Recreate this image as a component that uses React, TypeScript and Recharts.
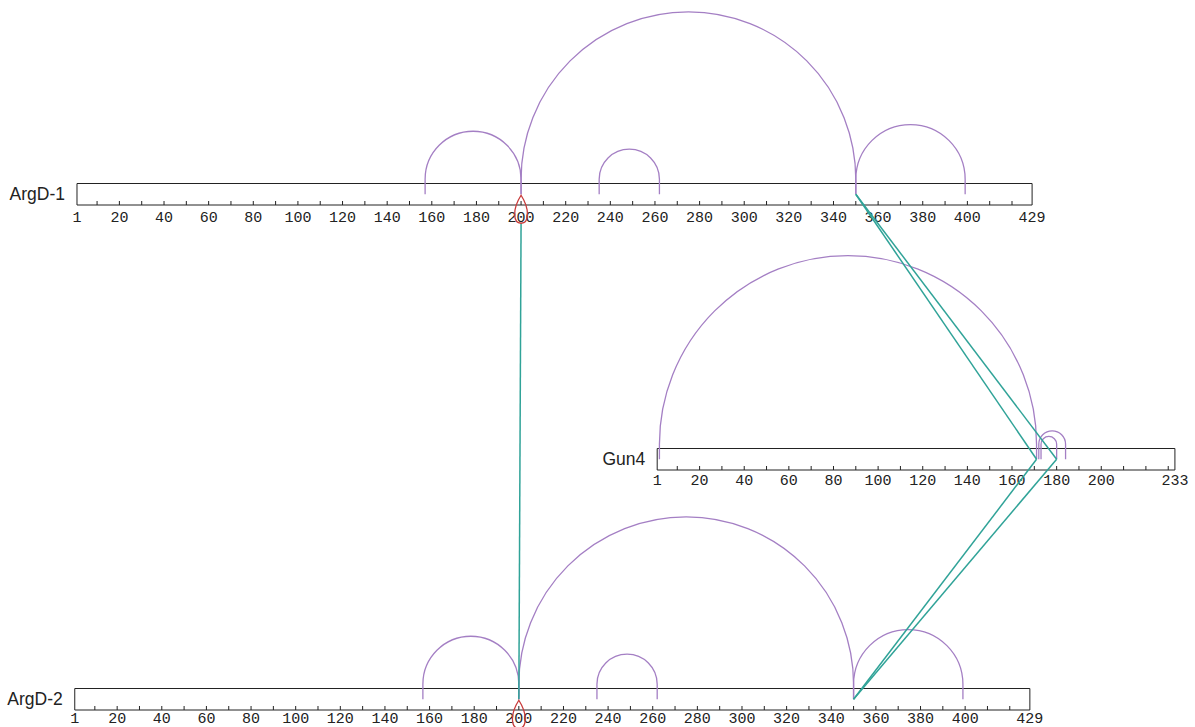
import React from 'react';
import { ComposedChart, XAxis, YAxis, Scatter, ReferenceArea } from 'recharts';

// proteins and their lengths (residues)
const proteins = ['ArgD-1', 'Gun4', 'ArgD-2'];
const proteinLengths = [429, 233, 429];

// labelled residues under each bar
const argdTickLabels = [1, 20, 40, 60, 80, 100, 120, 140, 160, 180, 200, 220, 240, 260, 280, 300, 320, 340, 360, 380, 400, 429];
const gun4TickLabels = [1, 20, 40, 60, 80, 100, 120, 140, 160, 180, 200, 233];
const tickLabels = [argdTickLabels, gun4TickLabels, argdTickLabels];

// intra-protein crosslinks: [protein, residue from, residue to]
const selfLinks: [string, number, number][] = [
  ['ArgD-1', 157, 200],
  ['ArgD-1', 200, 350],
  ['ArgD-1', 235, 262],
  ['ArgD-1', 350, 399],
  ['Gun4', 2, 171],
  ['Gun4', 172, 184],
  ['Gun4', 173, 180],
  ['ArgD-2', 157, 200],
  ['ArgD-2', 200, 350],
  ['ArgD-2', 235, 262],
  ['ArgD-2', 350, 399],
];

// inter-protein crosslinks: [protein A, residue A, protein B, residue B]
const crossLinks: [string, number, string, number][] = [
  ['ArgD-1', 200, 'ArgD-2', 200],
  ['ArgD-1', 350, 'Gun4', 171],
  ['ArgD-1', 350, 'Gun4', 180],
  ['Gun4', 171, 'ArgD-2', 350],
  ['Gun4', 180, 'ArgD-2', 350],
];

// homomultimeric link markers: [protein, residue]
const homoLinks: [string, number][] = [
  ['ArgD-1', 200],
  ['ArgD-2', 200],
];

// layout of each track: residue offset on the shared x axis, bar top/bottom in y units
const layout: Record<string, { offset: number; top: number; bottom: number; labelDy: number }> = {
  'ArgD-1': { offset: 0, top: 183.5, bottom: 205, labelDy: 16.5 },
  Gun4: { offset: 260, top: 448.5, bottom: 470, labelDy: 15 },
  'ArgD-2': { offset: -1, top: 688.5, bottom: 710, labelDy: 12.5 },
};

const W = 1195;
const H = 727;
const PURPLE = '#a47fc4';
const TEAL = '#30a398';
const RED = '#c83a3a';
const ARC_LEG = 15;

const mid = (p: string) => (layout[p].top + layout[p].bottom) / 2;
const pos = (p: string, r: number) => layout[p].offset + r;

const hidden = () => <g />;

const arcLine = (props: any) => {
  const pts = props.points || [];
  if (pts.length < 2) return <g />;
  const [a, b] = pts;
  const r = Math.abs(b.x - a.x) / 2;
  const top = a.y - ARC_LEG;
  return (
    <path
      d={`M${a.x},${a.y} L${a.x},${top} A${r},${r} 0 0 1 ${b.x},${top} L${b.x},${b.y}`}
      fill="none"
      stroke={PURPLE}
      strokeWidth={1.3}
    />
  );
};

const tickMark = (props: any) => (
  <line x1={props.cx} x2={props.cx} y1={props.cy - 4} y2={props.cy} stroke="#222" strokeWidth={1} />
);

const tickText = (props: any) => (
  <text
    x={props.cx}
    y={props.cy + props.payload.dy}
    textAnchor="middle"
    fontFamily="Liberation Mono"
    fontSize={15}
    fill="#222"
  >
    {props.payload.label}
  </text>
);

const nameText = (props: any) => (
  <text
    x={props.cx - 12}
    y={props.cy + 6}
    textAnchor="end"
    fontFamily="Liberation Sans"
    fontSize={17.5}
    fill="#222"
  >
    {props.payload.label}
  </text>
);

const homoMarker = (props: any) => {
  const { cx, cy } = props;
  return (
    <path
      d={`M${cx},${cy} C${cx - 9},${cy + 14} ${cx - 8},${cy + 28} ${cx},${cy + 28} C${cx + 8},${cy + 28} ${cx + 9},${cy + 14} ${cx},${cy} Z`}
      fill="none"
      stroke={RED}
      strokeWidth={1.3}
    />
  );
};

export default function App() {
  return (
    <div style={{ position: 'absolute', left: 0, top: 0, background: '#fff' }}>
      <ComposedChart width={W} height={H} margin={{ top: 0, right: 0, bottom: 0, left: 0 }}>
        <XAxis dataKey="x" type="number" domain={[-33.5, 502]} allowDataOverflow hide />
        <YAxis dataKey="y" type="number" domain={[0, H]} reversed allowDataOverflow hide />

        {proteins.map((p, i) => (
          <ReferenceArea
            key={`bar-${p}`}
            x1={pos(p, 1)}
            x2={pos(p, proteinLengths[i])}
            y1={layout[p].top}
            y2={layout[p].bottom}
            fill="none"
            stroke="#222"
            strokeWidth={1}
            ifOverflow="visible"
          />
        ))}

        {proteins.map((p, i) => {
          const marks = [];
          for (let r = 10; r < proteinLengths[i]; r += 10) marks.push({ x: pos(p, r), y: layout[p].bottom });
          return <Scatter key={`ticks-${p}`} data={marks} shape={tickMark} isAnimationActive={false} />;
        })}

        {proteins.map((p, i) => (
          <Scatter
            key={`labels-${p}`}
            data={tickLabels[i].map((r) => ({ x: pos(p, r), y: layout[p].bottom, label: r, dy: layout[p].labelDy }))}
            shape={tickText}
            isAnimationActive={false}
          />
        ))}

        <Scatter
          data={proteins.map((p) => ({ x: pos(p, 1), y: mid(p), label: p }))}
          shape={nameText}
          isAnimationActive={false}
        />

        {selfLinks.map(([p, a, b], i) => (
          <Scatter
            key={`self-${i}`}
            data={[
              { x: pos(p, a), y: mid(p) },
              { x: pos(p, b), y: mid(p) },
            ]}
            line={arcLine}
            shape={hidden}
            isAnimationActive={false}
          />
        ))}

        {crossLinks.map(([pa, ra, pb, rb], i) => (
          <Scatter
            key={`cross-${i}`}
            data={[
              { x: pos(pa, ra), y: homoLinks.some(([hp, hr]) => hp === pa && hr === ra) ? mid(pa) + 29 : mid(pa) },
              { x: pos(pb, rb), y: mid(pb) },
            ]}
            line={{ stroke: TEAL, strokeWidth: 1.5 }}
            lineType="joint"
            shape={hidden}
            fill={TEAL}
            isAnimationActive={false}
          />
        ))}

        <Scatter
          data={homoLinks.map(([p, r]) => ({ x: pos(p, r), y: mid(p) + 1 }))}
          shape={homoMarker}
          isAnimationActive={false}
        />
      </ComposedChart>
    </div>
  );
}
